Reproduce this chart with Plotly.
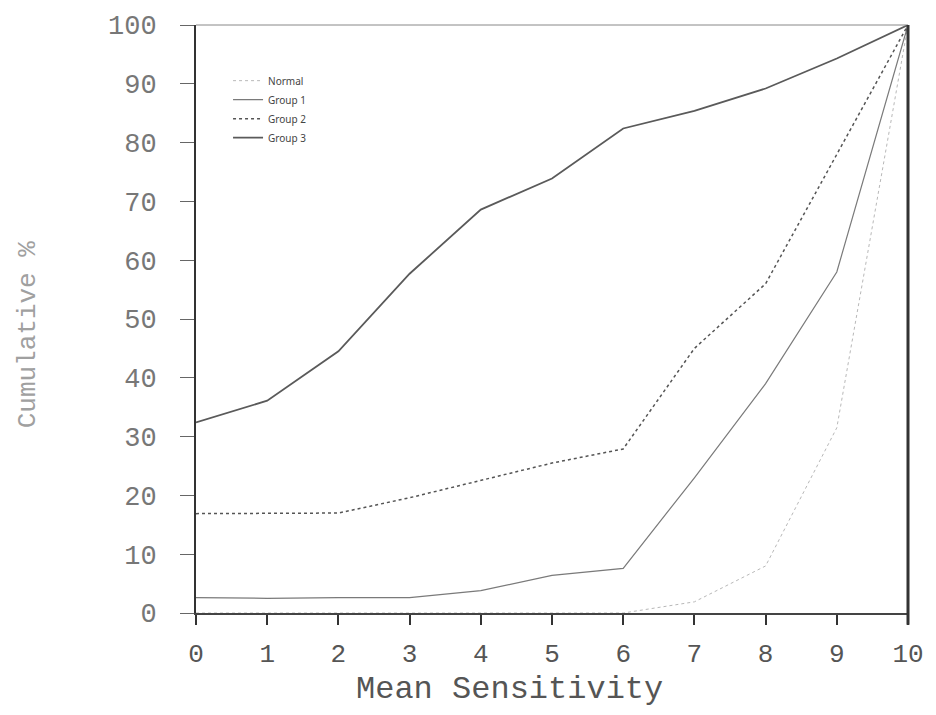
import plotly.graph_objects as go

sensitivity = [0, 1, 2, 3, 4, 5, 6, 7, 8, 9, 10]
normal = [0, 0, 0, 0, 0, 0, 0, 1.9, 8.0, 31.5, 100]
group1 = [2.6, 2.5, 2.6, 2.6, 3.8, 6.4, 7.6, 23.0, 39.0, 58.0, 100]
group2 = [16.9, 16.9, 17.0, 19.6, 22.6, 25.5, 27.9, 45.0, 56.0, 78.0, 100]
group3 = [32.4, 36.1, 44.5, 57.7, 68.6, 73.9, 82.4, 85.4, 89.2, 94.3, 100]
x_ticks = [0, 1, 2, 3, 4, 5, 6, 7, 8, 9, 10]
y_ticks = [0, 10, 20, 30, 40, 50, 60, 70, 80, 90, 100]

fig = go.Figure()
fig.add_trace(go.Scatter(x=sensitivity, y=normal, name="Normal", mode="lines",
                         line=dict(color="#b8b8b8", width=1, dash="dot"), cliponaxis=False))
fig.add_trace(go.Scatter(x=sensitivity, y=group1, name="Group 1", mode="lines",
                         line=dict(color="#7a7a7a", width=1.2), cliponaxis=False))
fig.add_trace(go.Scatter(x=sensitivity, y=group2, name="Group 2", mode="lines",
                         line=dict(color="#555555", width=1.5, dash="dot"), cliponaxis=False))
fig.add_trace(go.Scatter(x=sensitivity, y=group3, name="Group 3", mode="lines",
                         line=dict(color="#5a5a5a", width=1.8), cliponaxis=False))

mono = "Liberation Mono, DejaVu Sans Mono, monospace"

fig.update_layout(
    width=936, height=715,
    margin=dict(l=196, r=24, t=20, b=102),
    paper_bgcolor="white", plot_bgcolor="white",
    showlegend=True,
    legend=dict(x=0.045, y=0.93, xanchor="left", yanchor="top",
                bgcolor="rgba(0,0,0,0)", borderwidth=0,
                font=dict(family="Noto Sans, sans-serif", size=10, color="#444"),
                itemwidth=30, tracegroupgap=0),
    xaxis=dict(range=[0, 10], tickvals=x_ticks, ticks="outside", ticklen=10,
               tickwidth=2, tickcolor="#333", showgrid=False, zeroline=False,
               showline=True, linecolor="#444", linewidth=1.5, mirror=False,
               tickfont=dict(family=mono, size=26, color="#555"),
               ticklabelstandoff=6),
    yaxis=dict(range=[0, 100], tickvals=y_ticks, ticks="outside", ticklen=14,
               tickwidth=1.2, tickcolor="#666", showgrid=False, zeroline=False,
               showline=True, linecolor="#333", linewidth=2, mirror=False,
               tickfont=dict(family=mono, size=27, color="#777"),
               ticklabelstandoff=18),
    annotations=[
        dict(text="Mean Sensitivity", xref="paper", yref="paper",
             x=(511 - 196) / 716, y=(613 - 690) / 593, xanchor="center", yanchor="middle",
             showarrow=False, font=dict(family=mono, size=32, color="#555")),
        dict(text="Cumulative %", xref="paper", yref="paper", textangle=-90,
             x=(27 - 196) / 716, y=(613 - 332) / 593, xanchor="center", yanchor="middle",
             showarrow=False, font=dict(family=mono, size=26, color="#a0a0a0")),
    ],
    shapes=[
        dict(type="line", xref="paper", yref="paper", x0=0, x1=1, y0=1, y1=1,
             line=dict(color="#888", width=1)),
        dict(type="line", xref="paper", yref="paper", x0=1, x1=1, y0=-0.02, y1=1,
             line=dict(color="#333", width=3)),
    ],
)

fig.write_html("out.html")
